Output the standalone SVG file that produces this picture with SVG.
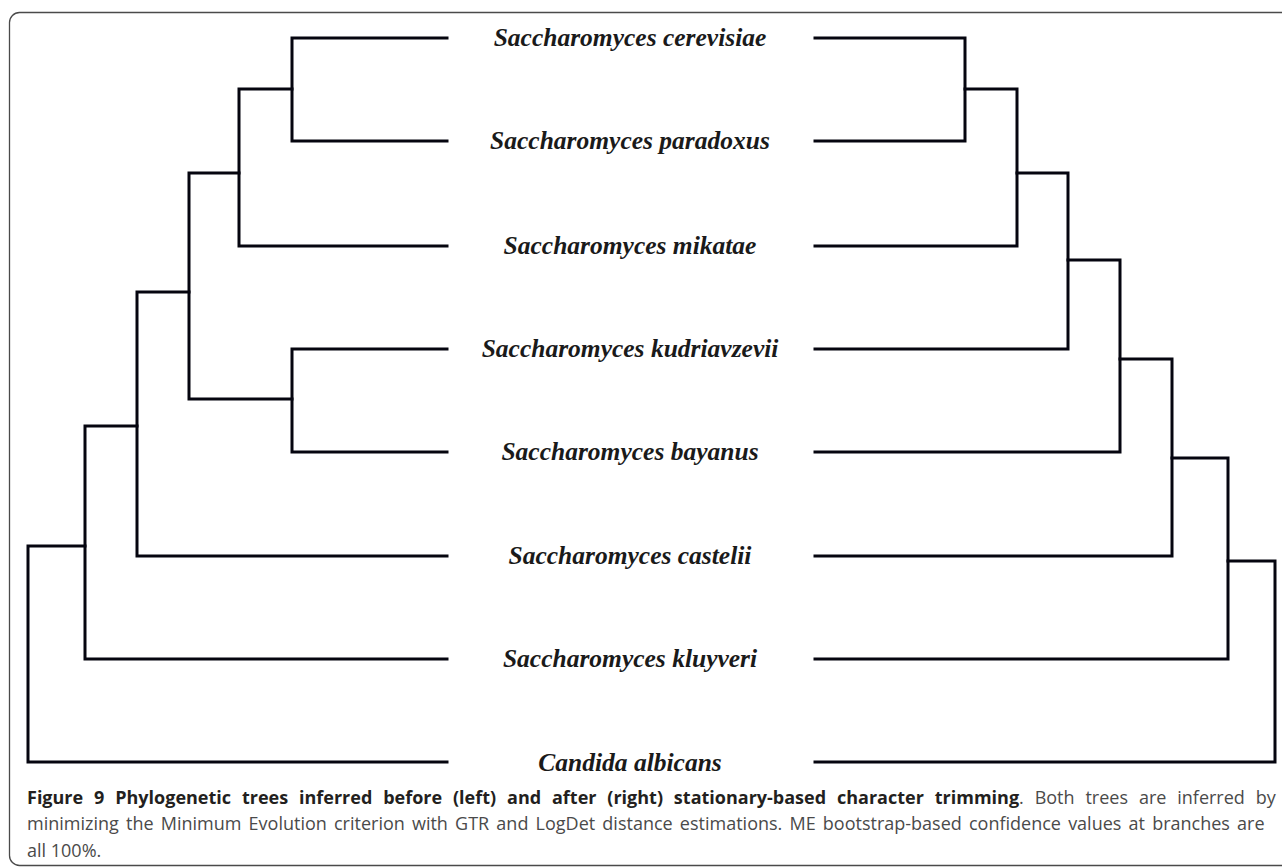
<svg xmlns="http://www.w3.org/2000/svg" width="1282" height="868" viewBox="0 0 1282 868">
<style>
.frame{fill:none;stroke:#4a4a4a;stroke-width:1.3}
.br{fill:none;stroke:#05050f;stroke-width:3;stroke-linecap:square;stroke-linejoin:miter}
.lab{font-family:"Liberation Serif","Times New Roman",serif;font-weight:bold;font-style:italic;font-size:25.5px;fill:#1a1a1a;text-anchor:middle}
.cap{font-family:"Open Sans","Noto Sans",sans-serif;font-size:18px;fill:#4a4a4a}
.capb{font-weight:bold;fill:#231f20}
</style>
<rect class="frame" x="9.5" y="12.5" width="1300" height="853" rx="10" ry="10"/>
<g id="connectors">
<g id="left-tree">
<path class="br" d="M447,38 H292 V141 H447"/>
<path class="br" d="M292,89 H239 V246 H447"/>
<path class="br" d="M239,173 H189 V399 H292"/>
<path class="br" d="M447,349 H292 V452 H447"/>
<path class="br" d="M189,292 H137 V556 H447"/>
<path class="br" d="M137,426 H85 V659 H447"/>
<path class="br" d="M85,546 H28 V762 H447"/>
</g>
<g id="right-tree">
<path class="br" d="M815,38 H965 V141 H815"/>
<path class="br" d="M965,89 H1017 V246 H815"/>
<path class="br" d="M1017,173 H1068 V349 H815"/>
<path class="br" d="M1068,260 H1120 V452 H815"/>
<path class="br" d="M1120,359 H1172 V556 H815"/>
<path class="br" d="M1172,458 H1228 V659 H815"/>
<path class="br" d="M1228,561 H1275 V762 H815"/>
</g>
</g>
<g id="node-cerevisiae"><text class="lab" x="630" y="46">Saccharomyces cerevisiae</text></g>
<g id="node-paradoxus"><text class="lab" x="630" y="149">Saccharomyces paradoxus</text></g>
<g id="node-mikatae"><text class="lab" x="630" y="254">Saccharomyces mikatae</text></g>
<g id="node-kudriavzevii"><text class="lab" x="630" y="357">Saccharomyces kudriavzevii</text></g>
<g id="node-bayanus"><text class="lab" x="630" y="460">Saccharomyces bayanus</text></g>
<g id="node-castelii"><text class="lab" x="630" y="564">Saccharomyces castelii</text></g>
<g id="node-kluyveri"><text class="lab" x="630" y="667">Saccharomyces kluyveri</text></g>
<g id="node-candida"><text class="lab" x="630" y="771">Candida albicans</text></g>
<g id="caption">
<text class="cap" x="27" y="804" word-spacing="6.2"><tspan class="capb">Figure 9 Phylogenetic trees inferred before (left) and after (right) stationary-based character trimming</tspan>. Both trees are inferred by</text>
<text class="cap" x="27" y="830" word-spacing="2.5">minimizing the Minimum Evolution criterion with GTR and LogDet distance estimations. ME bootstrap-based confidence values at branches are</text>
<text class="cap" x="27" y="857">all 100%.</text>
</g>
</svg>
